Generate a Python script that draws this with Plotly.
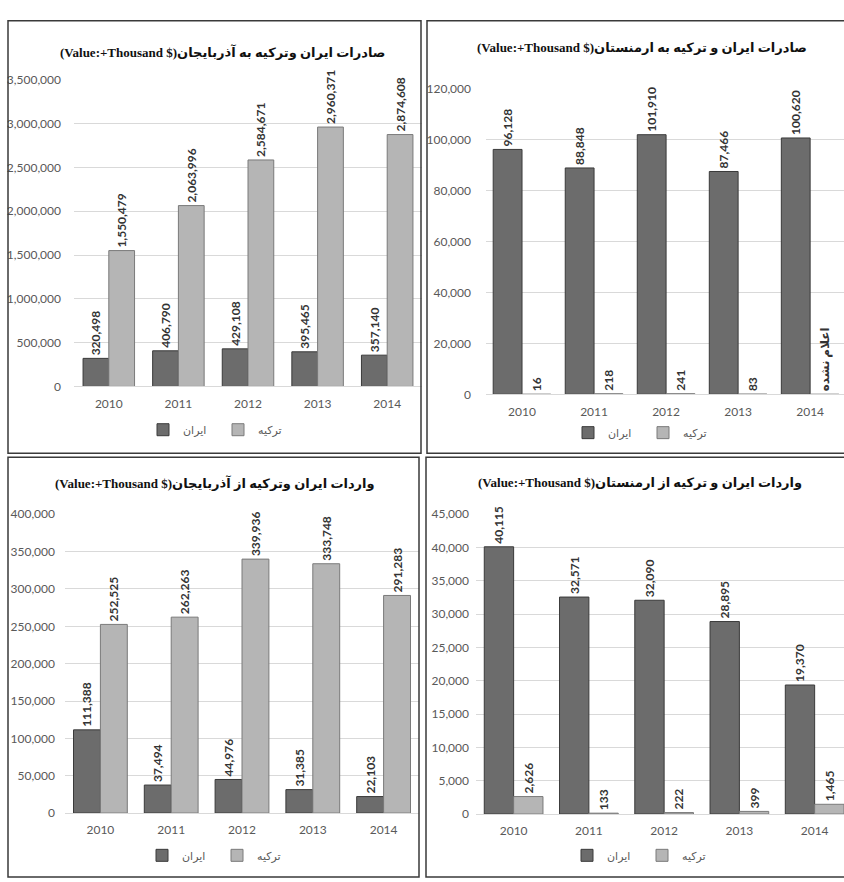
import plotly.graph_objects as go

W, H = 844, 882

years = ["2010", "2011", "2012", "2013", "2014"]

# صادرات ایران وترکیه به آذربایجان
exp_az_iran = [320498, 406790, 429108, 395465, 357140]
exp_az_turkey = [1550479, 2063996, 2584671, 2960371, 2874608]

# صادرات ایران و ترکیه به ارمنستان
exp_am_iran = [96128, 88848, 101910, 87466, 100620]
exp_am_turkey = [16, 218, 241, 83, 0]
exp_am_turkey_labels = ["16", "218", "241", "83", "اعلام نشده"]

# واردات ایران وترکیه از آذربایجان
imp_az_iran = [111388, 37494, 44976, 31385, 22103]
imp_az_turkey = [252525, 262263, 339936, 333748, 291283]

# واردات ایران و ترکیه از ارمنستان
imp_am_iran = [40115, 32571, 32090, 28895, 19370]
imp_am_turkey = [2626, 133, 222, 399, 1465]

titles = [
    "(Value:+Thousand $)صادرات ایران وترکیه به آذربایجان",
    "(Value:+Thousand $)صادرات ایران و ترکیه به ارمنستان",
    "(Value:+Thousand $)واردات ایران وترکیه از آذربایجان",
    "(Value:+Thousand $)واردات ایران و ترکیه از ارمنستان",
]
name_iran = "ایران"
name_turkey = "ترکیه"


def fmt(vals):
    return [f"{v:,}" for v in vals]


def px_x(a, b):
    return [a / W, b / W]


def px_y(top, bottom):
    return [1 - bottom / H, 1 - top / H]


IRAN_C = "#6c6c6c"
TURK_C = "#b5b5b5"
EDGE = "#3a3a3a"
LABEL_FONT = dict(family="Lato, DejaVu Sans", size=12, color="#333333", weight="bold")
TICK_FONT = dict(family="Lato, DejaVu Sans", size=12, color="#595959")

panels = [
    dict(iran=exp_az_iran, turk=exp_az_turkey, tl=fmt(exp_az_turkey),
         xd=(74, 422), xr=[-0.5, 4.5], yd=(73, 385), yr=[0, 3500000], dt=500000,
         bw=0.37, title=(222, 45), leg=(218, 429), stand=12),
    dict(iran=exp_am_iran, turk=exp_am_turkey, tl=exp_am_turkey_labels,
         xd=(486, 844), xr=[-0.5, 4.47], yd=(82, 393), yr=[0, 120000], dt=20000,
         bw=0.40, title=(642, 40), leg=(643, 432), stand=14),
    dict(iran=imp_az_iran, turk=imp_az_turkey, tl=fmt(imp_az_turkey),
         xd=(65, 419), xr=[-0.5, 4.5], yd=(515, 819), yr=[0, 400000], dt=50000,
         bw=0.38, title=(215, 483), leg=(217, 862), stand=9),
    dict(iran=imp_am_iran, turk=imp_am_turkey, tl=fmt(imp_am_turkey),
         xd=(476, 844), xr=[-0.5, 4.39], yd=(515, 820), yr=[0, 45000], dt=5000,
         bw=0.39, title=(640, 483), leg=(642, 862), stand=6),
]

fig = go.Figure()
layout = {}
annotations = []
shapes = []

for i, p in enumerate(panels):
    n = i + 1
    xa = "x" if n == 1 else f"x{n}"
    ya = "y" if n == 1 else f"y{n}"
    lg = "legend" if n == 1 else f"legend{n}"
    bw = p["bw"]
    common = dict(xaxis=xa, yaxis=ya, legend=lg, textposition="outside",
                  textangle=-90, constraintext="none", cliponaxis=False,
                  textfont=LABEL_FONT, width=bw)
    fig.add_trace(go.Bar(x=years, y=p["iran"], name=name_iran,
                         text=fmt(p["iran"]), offset=-bw,
                         marker=dict(color=IRAN_C, line=dict(color=EDGE, width=1)),
                         **common))
    fig.add_trace(go.Bar(x=years, y=p["turk"], name=name_turkey,
                         text=p["tl"], offset=0,
                         marker=dict(color=TURK_C, line=dict(color="#7a7a7a", width=1)),
                         **common))
    xkey = "xaxis" if n == 1 else f"xaxis{n}"
    ykey = "yaxis" if n == 1 else f"yaxis{n}"
    layout[xkey] = dict(domain=px_x(*p["xd"]), range=p["xr"], type="category",
                        anchor=ya, showgrid=False, showline=True,
                        linecolor="#d9d9d9", linewidth=1, ticks="",
                        tickfont=TICK_FONT, ticklabelstandoff=6, fixedrange=True)
    layout[ykey] = dict(domain=px_y(*p["yd"]), range=p["yr"], dtick=p["dt"],
                        anchor=xa, tickformat=",", showgrid=True,
                        gridcolor="#d9d9d9", gridwidth=1, zeroline=False,
                        showline=False, ticks="", tickfont=TICK_FONT,
                        ticklabelstandoff=p["stand"], fixedrange=True)
    layout[lg] = dict(orientation="h", x=p["leg"][0] / W, xanchor="center",
                      y=1 - p["leg"][1] / H, yanchor="middle",
                      font=dict(family="DejaVu Sans", size=11, color="#595959"),
                      bgcolor="rgba(0,0,0,0)", itemwidth=30,
                      entrywidthmode="pixels", entrywidth=30)
    annotations.append(dict(text="<b>" + titles[i] + "</b>", xref="paper",
                            yref="paper", x=p["title"][0] / W,
                            y=1 - p["title"][1] / H, xanchor="center",
                            yanchor="middle", showarrow=False,
                            font=dict(family="Liberation Serif, DejaVu Sans",
                                      size=13, color="#111111")))

# panel frames
frames = [(8, 13, 421, 453), (427, 13, 846, 453), (8, 457, 419, 884), (426, 457, 846, 884)]
for (x0, y0, x1, y1) in frames:
    shapes.append(dict(type="rect", xref="paper", yref="paper",
                       x0=x0 / W, x1=x1 / W, y0=1 - y1 / H, y1=1 - y0 / H,
                       line=dict(color="#3a3a3a", width=1.5), layer="above"))

fig.update_layout(
    width=W, height=H, margin=dict(l=0, r=0, t=0, b=0),
    paper_bgcolor="white", plot_bgcolor="rgba(0,0,0,0)",
    barmode="overlay", hovermode=False,
    annotations=annotations, shapes=shapes, showlegend=True,
    **layout,
)
fig.write_html("out.html",
               config={"displayModeBar": False, "staticPlot": False},
               post_script="document.body.style.margin='0';document.body.style.overflow='hidden';")
